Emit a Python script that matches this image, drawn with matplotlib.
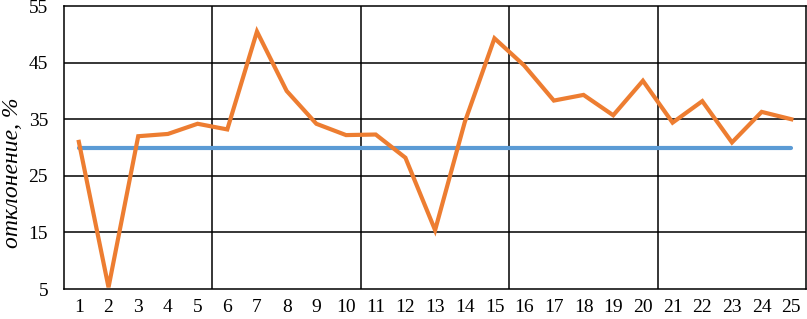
import matplotlib
matplotlib.use("Agg")
import matplotlib.pyplot as plt

# data
points = list(range(1, 26))
deviation = [31.0, 5.3, 32.0, 32.4, 34.2, 33.2, 50.5, 40.0, 34.2, 32.2,
             32.3, 28.2, 15.4, 34.5, 49.3, 44.5, 38.3, 39.3, 35.7, 41.8,
             34.4, 38.2, 30.9, 36.3, 35.0]
limit = [30.0] * 25
y_ticks = [5, 15, 25, 35, 45, 55]

plt.rcParams['font.family'] = ['Liberation Serif', 'DejaVu Serif']

fig = plt.figure(figsize=(8.07, 3.19), dpi=100)
ax = fig.add_axes([0.0793, 0.094, 0.9197, 0.887])

ax.plot(points, limit, color='#5B9BD5', lw=3.0, solid_capstyle='round', zorder=3)
ax.plot(points, deviation, color='#ED7D31', lw=3.0, solid_joinstyle='miter', zorder=4)

ax.set_xlim(0.5, 25.5)
ax.set_ylim(5, 55)
ax.set_yticks(y_ticks)
ax.set_xticks(points)
ax.tick_params(length=0, labelsize=14)
ax.tick_params(axis='y', pad=11.5)
ax.tick_params(axis='x', pad=7.5)

for y in y_ticks[1:-1]:
    ax.axhline(y, color='black', lw=1.1, zorder=1)
for x in [5.5, 10.5, 15.5, 20.5]:
    ax.axvline(x, color='black', lw=1.1, zorder=1)
for s in ax.spines.values():
    s.set_color('black')
    s.set_linewidth(1.1)

ax.set_ylabel('отклонение, %', fontsize=17, style='italic')
ax.yaxis.set_label_coords(-0.055, 0.41)

fig.savefig('out.png', dpi=100)
